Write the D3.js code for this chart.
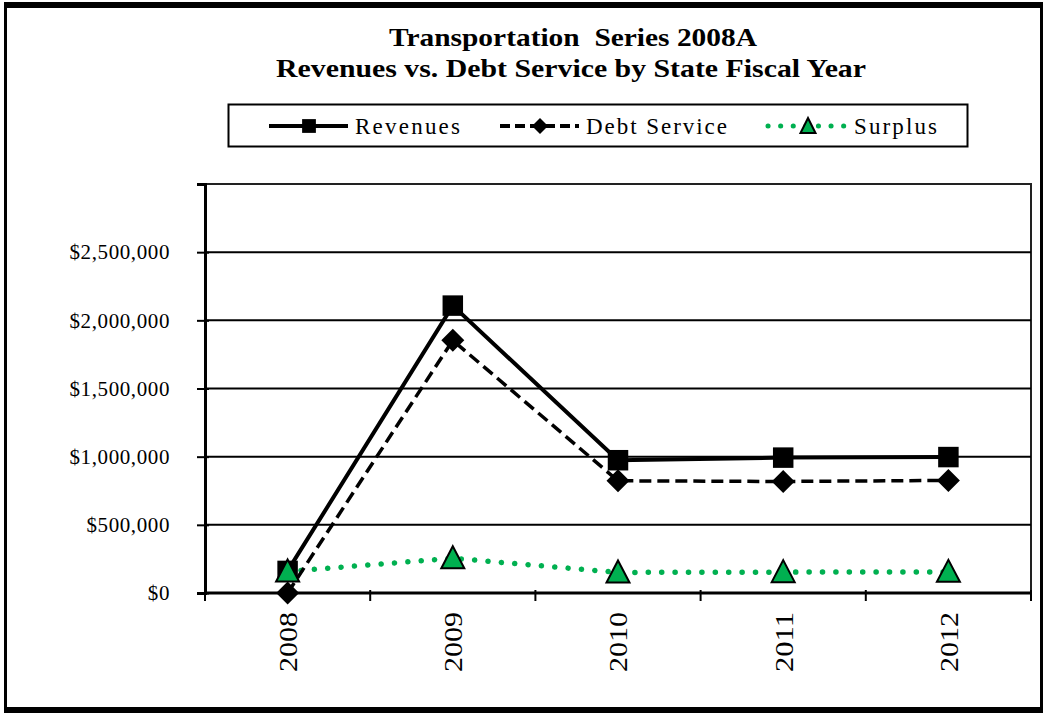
<!DOCTYPE html>
<html>
<head>
<meta charset="utf-8">
<script src="https://cdn.jsdelivr.net/npm/d3@7"></script>
<style>
  body { margin: 0; background: #fff; }
  text { font-family: "Liberation Serif", "Times New Roman", serif; fill: #000; }
</style>
</head>
<body>
<script>
(function() {

  var years = ["2008", "2009", "2010", "2011", "2012"];
  var revenues = [162000, 2108000, 974000, 993000, 997000];
  var debtService = [0, 1853000, 823000, 818000, 826000];
  var surplus = [158000, 255000, 151000, 153000, 155000];
  var yTicks = [0, 500000, 1000000, 1500000, 2000000, 2500000];
  var seriesNames = ["Revenues", "Debt Service", "Surplus"];

  var width = 1044, height = 713;
  var plot = { left: 205, right: 1031, top: 184, bottom: 593 };
  var green = "#00b050";

  var svg = d3.select("body")
        .append("svg")
        .attr("width", width)
        .attr("height", height);

  // outer frame
  svg.append("rect")
    .attr("x", 5.5).attr("y", 5).attr("width", 1036).attr("height", 704)
    .attr("fill", "#fff").attr("stroke", "#000").attr("stroke-width", 3);
  svg.append("rect").attr("x", 4).attr("y", 2).attr("width", 1039).attr("height", 6).attr("fill", "#000");
  svg.append("rect").attr("x", 4).attr("y", 707).attr("width", 1039).attr("height", 6).attr("fill", "#000");

  // titles
  svg.append("text")
    .attr("x", 389).attr("y", 46)
    .attr("textLength", 368).attr("lengthAdjust", "spacingAndGlyphs")
    .style("font-size", "25px").style("font-weight", "bold")
    .style("white-space", "pre")
    .text("Transportation  Series 2008A");
  svg.append("text")
    .attr("x", 276).attr("y", 77)
    .attr("textLength", 590).attr("lengthAdjust", "spacingAndGlyphs")
    .style("font-size", "25px").style("font-weight", "bold")
    .text("Revenues vs. Debt Service by State Fiscal Year");

  var x = d3.scaleBand().domain(years).range([plot.left, plot.right]);
  var y = d3.scaleLinear().domain([0, 3000000]).range([plot.bottom, plot.top]);
  var cx = function(d) { return x(d) + x.bandwidth() / 2; };

  // plot box + gridlines
  svg.append("rect")
    .attr("x", plot.left).attr("y", plot.top)
    .attr("width", plot.right - plot.left).attr("height", plot.bottom - plot.top)
    .attr("fill", "none").attr("stroke", "#222").attr("stroke-width", 2);

  svg.append("g")
    .selectAll("line")
    .data(yTicks.slice(1))
    .enter().append("line")
    .attr("x1", plot.left).attr("x2", plot.right)
    .attr("y1", function(d) { return y(d); })
    .attr("y2", function(d) { return y(d); })
    .attr("stroke", "#000").attr("stroke-width", 2);

  // y axis
  var yAxis = svg.append("g")
    .attr("transform", "translate(" + plot.left + ",0)")
    .call(d3.axisLeft(y)
      .tickValues(yTicks)
      .tickSize(8)
      .tickPadding(27)
      .tickFormat(function(d) { return "$" + d3.format(",")(d); }));
  yAxis.select(".domain").attr("stroke", "#000").attr("stroke-width", 3);
  yAxis.selectAll(".tick line").attr("x2", -8).attr("x1", 4).attr("stroke-width", 2);
  yAxis.selectAll(".tick text")
    .style("font-size", "21px")
    .style("letter-spacing", "0.6px")
    .style("font-family", "Liberation Serif, Times New Roman, serif");

  // x axis
  svg.append("line")
    .attr("x1", plot.left).attr("x2", plot.right)
    .attr("y1", plot.bottom).attr("y2", plot.bottom)
    .attr("stroke", "#000").attr("stroke-width", 3);
  svg.append("g")
    .selectAll("line")
    .data(years.concat(["end"]))
    .enter().append("line")
    .attr("x1", function(d) { return d === "end" ? plot.right : x(d); })
    .attr("x2", function(d) { return d === "end" ? plot.right : x(d); })
    .attr("y1", plot.bottom - 3).attr("y2", plot.bottom + 8)
    .attr("stroke", "#000").attr("stroke-width", 2);

  svg.append("g")
    .selectAll("text")
    .data(years)
    .enter().append("text")
    .attr("transform", function(d) { return "translate(" + cx(d) + ",612) rotate(-90)"; })
    .attr("text-anchor", "end")
    .attr("dy", "0.36em")
    .attr("textLength", 60).attr("lengthAdjust", "spacingAndGlyphs")
    .style("font-size", "26px")
    .text(function(d) { return d; });

  // series
  function points(vals) {
    return years.map(function(d, i) { return { year: d, value: vals[i] }; });
  }
  var line = d3.line()
    .x(function(d) { return cx(d.year); })
    .y(function(d) { return y(d.value); });

  svg.append("path")
    .datum(points(surplus))
    .attr("d", line).attr("fill", "none")
    .attr("stroke", green).attr("stroke-width", 5.5)
    .attr("stroke-linecap", "round").attr("stroke-dasharray", "0.1 13.3");

  svg.append("path")
    .datum(points(debtService))
    .attr("d", line).attr("fill", "none")
    .attr("stroke", "#000").attr("stroke-width", 3.5)
    .attr("stroke-dasharray", "12 6");

  svg.append("path")
    .datum(points(revenues))
    .attr("d", line).attr("fill", "none")
    .attr("stroke", "#000").attr("stroke-width", 4);

  var square = d3.symbol().type(d3.symbolSquare);
  var diamond = "M0,-11.5L11.5,0L0,11.5L-11.5,0Z";
  var triangle = "M0,-12L11.5,10L-11.5,10Z";

  svg.append("g").selectAll("path")
    .data(points(revenues))
    .enter().append("path")
    .attr("transform", function(d) { return "translate(" + cx(d.year) + "," + y(d.value) + ")"; })
    .attr("d", square.size(420))
    .attr("fill", "#000");

  svg.append("g").selectAll("path")
    .data(points(debtService))
    .enter().append("path")
    .attr("transform", function(d) { return "translate(" + cx(d.year) + "," + y(d.value) + ")"; })
    .attr("d", diamond)
    .attr("fill", "#000");

  svg.append("g").selectAll("path")
    .data(points(surplus))
    .enter().append("path")
    .attr("transform", function(d) { return "translate(" + cx(d.year) + "," + y(d.value) + ")"; })
    .attr("d", triangle)
    .attr("fill", green).attr("stroke", "#000").attr("stroke-width", 2);

  // legend
  svg.append("rect")
    .attr("x", 228.5).attr("y", 104.5).attr("width", 739).attr("height", 42)
    .attr("fill", "#fff").attr("stroke", "#000").attr("stroke-width", 2);

  var legendX = [269, 500, 768];
  var textLen = [105, 141, 83];
  var ly = 126;
  var legend = svg.append("g").selectAll("g")
    .data(seriesNames)
    .enter().append("g")
    .attr("transform", function(d, i) { return "translate(" + legendX[i] + "," + ly + ")"; });

  legend.append("line")
    .attr("x1", 0).attr("x2", 79).attr("y1", 0).attr("y2", 0)
    .attr("stroke", function(d, i) { return i === 2 ? green : "#000"; })
    .attr("stroke-width", function(d, i) { return i === 2 ? 5 : 4; })
    .attr("stroke-linecap", function(d, i) { return i === 2 ? "round" : "butt"; })
    .attr("stroke-dasharray", function(d, i) { return i === 0 ? null : (i === 1 ? "10 5" : "0.1 12.5"); });

  legend.append("path")
    .attr("transform", "translate(40,0)")
    .attr("d", function(d, i) {
      if (i === 0) return d3.symbol().type(d3.symbolSquare).size(190)();
      if (i === 1) return "M0,-8L8,0L0,8L-8,0Z";
      return "M0,-8L7.5,7L-7.5,7Z";
    })
    .attr("fill", function(d, i) { return i === 2 ? green : "#000"; })
    .attr("stroke", function(d, i) { return i === 2 ? "#000" : "none"; })
    .attr("stroke-width", 2);

  legend.append("text")
    .attr("x", 86).attr("y", 7.5)
    .attr("textLength", function(d, i) { return textLen[i]; })
    .attr("lengthAdjust", "spacing")
    .style("font-size", "23px")
    .text(function(d) { return d; });

})();
</script>
</body>
</html>
